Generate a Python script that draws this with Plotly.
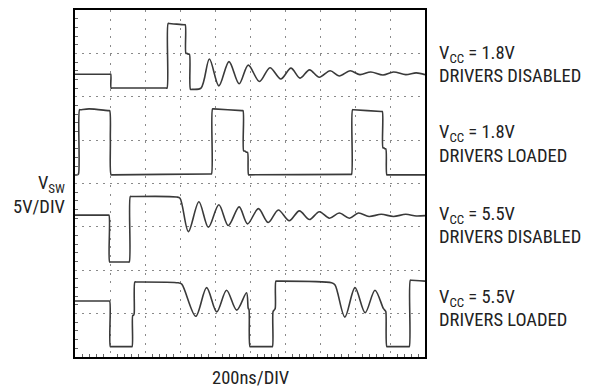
import plotly.graph_objects as go

# scope traces, x in time divisions (200ns/div), y in vertical divisions (5V/div)
t1_x = [0, 0.99, 1.02, 1.03, 1.06, 2.60, 2.63, 2.66, 2.69, 3.12, 3.15, 3.17, 3.20, 3.24, 3.27,
        3.30, 3.34, 3.60, 3.84, 4.11, 4.40, 4.69, 4.95, 5.27, 5.57, 5.88, 6.17, 6.43, 6.70,
        6.98, 7.29, 7.55, 7.86, 8.14, 8.45, 8.80, 9.10, 9.45, 9.75, 10]
t1_y = [6.52, 6.52, 6.52, 6.20, 6.20, 6.20, 6.20, 7.69, 7.69, 7.66, 7.66, 7.00, 7.00, 6.98, 6.98,
        6.17, 6.17, 6.20, 6.87, 6.25, 6.81, 6.30, 6.73, 6.35, 6.67, 6.41, 6.66, 6.43, 6.62,
        6.45, 6.60, 6.48, 6.60, 6.51, 6.57, 6.50, 6.57, 6.51, 6.55, 6.51]

t2_x = [0, 0.07, 0.10, 0.13, 0.16, 0.40, 0.96, 0.99, 1.01, 1.03, 1.06, 3.87, 3.90, 3.93, 3.96,
        4.77, 4.80, 4.82, 4.85, 4.90, 4.93, 4.96, 4.99, 7.87, 7.90, 7.93, 7.96, 8.75, 8.78,
        8.80, 8.83, 8.85, 8.88, 8.91, 8.94, 10]
t2_y = [4.20, 4.20, 4.22, 5.70, 5.70, 5.72, 5.68, 5.68, 5.00, 4.20, 4.20, 4.22, 4.22, 5.72, 5.72,
        5.68, 5.68, 4.75, 4.75, 4.72, 4.72, 4.20, 4.20, 4.21, 4.21, 5.70, 5.70, 5.66, 5.66,
        4.82, 4.82, 4.80, 4.80, 4.20, 4.20, 4.20]

t3_x = [0, 0.94, 0.97, 0.99, 1.02, 1.52, 1.55, 1.58, 1.61, 2.90, 3.00, 3.24, 3.54, 3.81, 4.11,
        4.38, 4.69, 4.93, 5.24, 5.52, 5.81, 6.12, 6.41, 6.70, 6.98, 7.27, 7.55, 7.84, 8.10,
        8.40, 8.75, 9.10, 9.45, 9.75, 10]
t3_y = [3.27, 3.27, 3.27, 2.19, 2.19, 2.19, 2.19, 3.70, 3.70, 3.69, 3.66, 2.89, 3.58, 2.99, 3.51,
        3.03, 3.46, 3.07, 3.42, 3.10, 3.39, 3.14, 3.37, 3.17, 3.35, 3.20, 3.32, 3.20, 3.32,
        3.24, 3.29, 3.24, 3.29, 3.25, 3.26]

t4_x = [0, 0.96, 0.99, 1.01, 1.04, 1.60, 1.63, 1.65, 1.67, 1.69, 1.71, 1.74, 2.95, 3.05, 3.45,
        3.76, 4.05, 4.33, 4.62, 4.90, 4.95, 4.97, 5.00, 5.03, 5.61, 5.64, 5.66, 5.69, 5.72,
        5.74, 5.77, 7.33, 7.43, 7.71, 8.00, 8.29, 8.57, 8.81, 8.86, 8.88, 8.91, 8.94, 9.52,
        9.55, 9.58, 9.61, 10]
t4_y = [1.29, 1.29, 1.29, 0.24, 0.24, 0.24, 0.24, 0.96, 0.96, 1.00, 1.73, 1.73, 1.71, 1.68, 0.94,
        1.60, 1.04, 1.54, 1.08, 1.48, 1.12, 1.10, 0.24, 0.24, 0.24, 0.24, 1.05, 1.08, 1.12,
        1.75, 1.75, 1.71, 1.66, 0.92, 1.60, 1.02, 1.54, 1.12, 1.07, 1.05, 0.24, 0.24, 0.24,
        0.24, 1.77, 1.77, 1.75]

vcc_labels = ["V<sub>CC</sub> = 1.8V", "V<sub>CC</sub> = 1.8V",
              "V<sub>CC</sub> = 5.5V", "V<sub>CC</sub> = 5.5V"]
mode_labels = ["DRIVERS DISABLED", "DRIVERS LOADED", "DRIVERS DISABLED", "DRIVERS LOADED"]
vcc_y = [0.874, 0.645, 0.410, 0.169]    # paper y of each label line
mode_y = [0.809, 0.580, 0.347, 0.106]

FONT = "Liberation Sans Narrow, Arial Narrow, Roboto Condensed, Liberation Sans, sans-serif"
TXT = dict(family=FONT, size=18.5, color="#222")

fig = go.Figure()
for xs, ys in [(t1_x, t1_y), (t2_x, t2_y), (t3_x, t3_y), (t4_x, t4_y)]:
    fig.add_trace(go.Scatter(
        x=xs, y=ys, mode="lines",
        line=dict(color="#3a3a3a", width=1.6, shape="spline", smoothing=0.9),
        showlegend=False, hoverinfo="skip",
    ))

for txt, yy in zip(vcc_labels + mode_labels, vcc_y + mode_y):
    fig.add_annotation(
        x=1.034, y=yy, xref="paper", yref="paper", text=txt, showarrow=False,
        xanchor="left", yanchor="middle", align="left", font=TXT,
    )

fig.add_annotation(
    x=-0.023, y=0.466, xref="paper", yref="paper", text="V<sub>SW</sub><br>5V/DIV",
    showarrow=False, xanchor="right", yanchor="middle", align="right", font=TXT,
)
fig.add_annotation(
    x=0.5, y=-0.06, xref="paper", yref="paper", text="200ns/DIV", showarrow=False,
    xanchor="center", yanchor="middle", font=TXT,
)

axis_common = dict(
    showticklabels=False, zeroline=False,
    showline=True, mirror=True, linecolor="black", linewidth=2,
    showgrid=True, gridcolor="#8a8a8a", gridwidth=1,
    ticks="", fixedrange=True,
)
fig.update_xaxes(range=[0, 10], dtick=1, griddash="2px,6.75px",
                 minor=dict(dtick=0.2, ticks="inside", ticklen=3, tickcolor="#666", showgrid=False),
                 **axis_common)
fig.update_yaxes(range=[0, 8], dtick=1, griddash="2px,5px",
                 minor=dict(dtick=0.2, ticks="inside", ticklen=3, tickcolor="#666", showgrid=False),
                 **axis_common)

# the page body adds an 8px offset, so the figure is 8px smaller with shifted margins
fig.update_layout(
    width=594, height=380,
    margin=dict(l=67, r=177, t=0, b=31),
    plot_bgcolor="white", paper_bgcolor="white",
)

fig.write_html("out.html")
